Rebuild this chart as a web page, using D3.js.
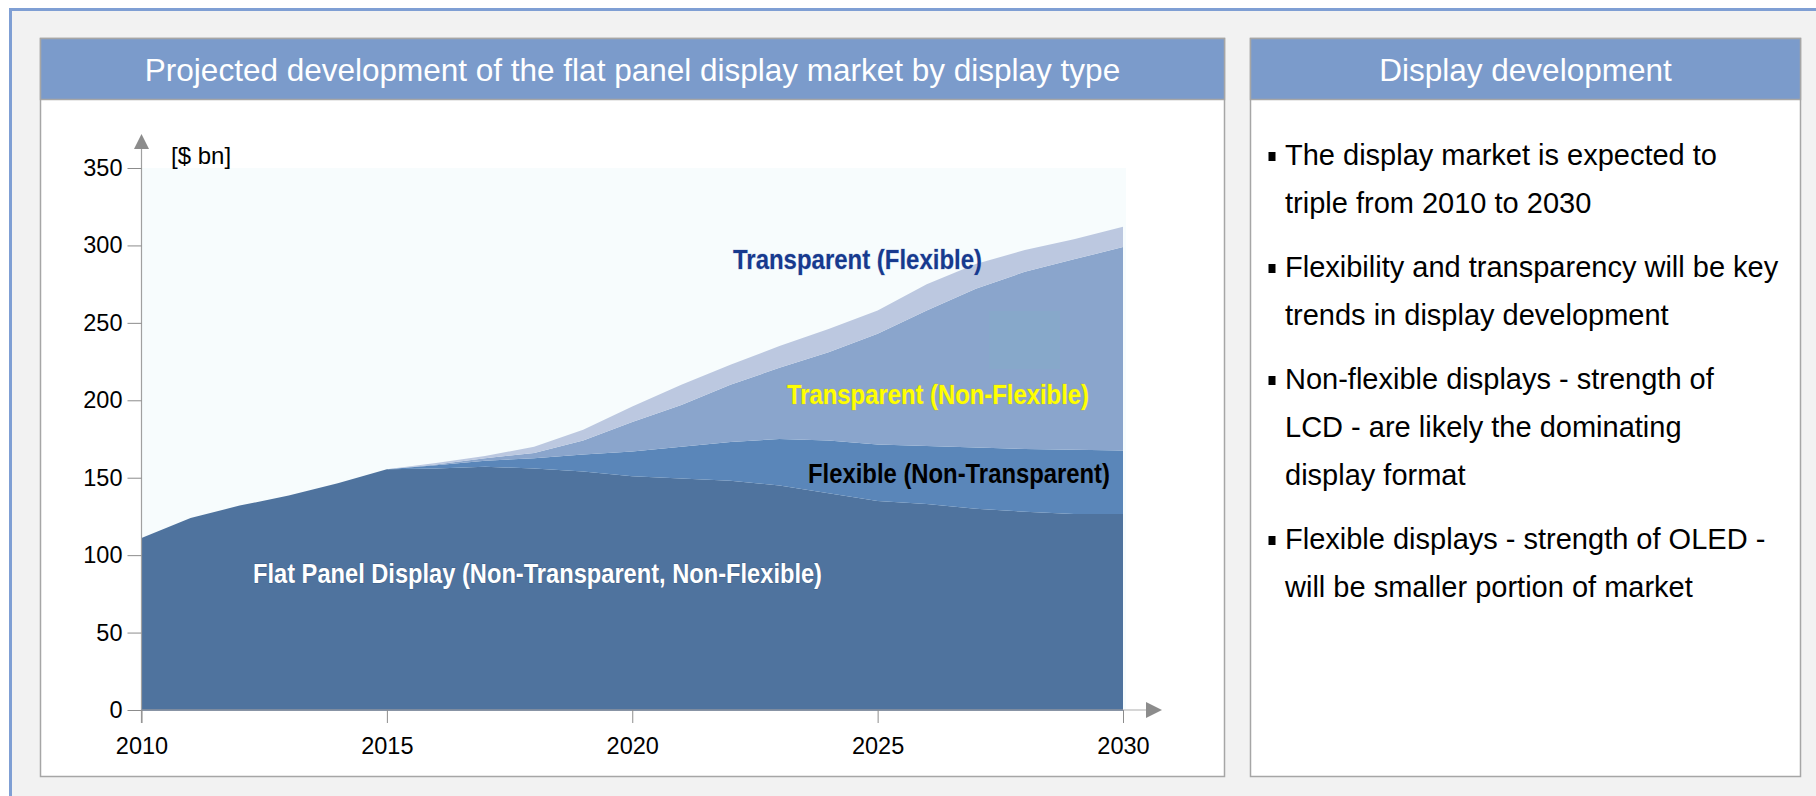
<!DOCTYPE html>
<html>
<head>
<meta charset="utf-8">
<script src="https://cdn.jsdelivr.net/npm/d3@7"></script>
<style>
  html, body { margin: 0; padding: 0; background: #ffffff; }
  svg { display: block; }
  text { font-family: "Liberation Sans", Arial, sans-serif; }
</style>
</head>
<body>
<svg id="chart" width="1816" height="796"></svg>
<script>
// ---- data -------------------------------------------------------------
const years = [2010, 2011, 2012, 2013, 2014, 2015, 2016, 2017, 2018, 2019, 2020,
               2021, 2022, 2023, 2024, 2025, 2026, 2027, 2028, 2029, 2030];

// market value per display type, $ bn (stacked bottom to top)
const flatPanel          = [111, 124, 132, 138.5, 146.5, 155.5, 156, 157, 156, 154, 151,
                            149.5, 148, 145, 140, 135, 133, 130, 128, 126.5, 126.5];
const flexible           = [0, 0, 0, 0, 0, 0, 2, 4, 6.5, 11, 16,
                            20.5, 25, 30, 34, 36.5, 37.5, 39.5, 40.5, 41.5, 41];
const transparentNonFlex = [0, 0, 0, 0, 0, 0, 0.5, 1.5, 3.5, 9, 19,
                            27, 37, 46, 57, 71.5, 87.5, 102.5, 114.5, 123, 131.5];
const transparentFlex    = [0, 0, 0, 0, 0, 0, 1, 1.5, 4, 7, 10,
                            13, 13, 14, 15, 15, 17, 16, 14, 13, 13];

const seriesKeys   = ["flatPanel", "flexible", "transparentNonFlex", "transparentFlex"];
const seriesLabels = ["Flat Panel Display (Non-Transparent, Non-Flexible)",
                      "Flexible (Non-Transparent)",
                      "Transparent (Non-Flexible)",
                      "Transparent (Flexible)"];

const yTicks = [0, 50, 100, 150, 200, 250, 300, 350];
const xTicks = [2010, 2015, 2020, 2025, 2030];
const unitLabel = "[$ bn]";

const leftTitle  = "Projected development of the flat panel display market by display type";
const rightTitle = "Display development";
const bullets = [
  ["The display market is expected to", "triple from 2010 to 2030"],
  ["Flexibility and transparency will be key", "trends in display development"],
  ["Non-flexible displays - strength of", "LCD - are likely the dominating", "display format"],
  ["Flexible displays - strength of OLED -", "will be smaller portion of market"]
];

// ---- layout -----------------------------------------------------------
const svg = d3.select("#chart");

// outer frame
svg.append("rect")
  .attr("x", 10.5).attr("y", 9.5).attr("width", 1830).attr("height", 820)
  .attr("fill", "#f2f2f2").attr("stroke", "#7f9fd4").attr("stroke-width", 3);

function panel(x, w, title, fontSize) {
  const y = 38.5, h = 738, headH = 61;
  svg.append("rect").attr("x", x).attr("y", y).attr("width", w).attr("height", h)
    .attr("fill", "#ffffff").attr("stroke", "#a6a6a6").attr("stroke-width", 1.5);
  svg.append("rect").attr("x", x).attr("y", y).attr("width", w).attr("height", headH)
    .attr("fill", "#7b9bcb").attr("stroke", "#a6a6a6").attr("stroke-width", 1.5);
  svg.append("text").attr("x", x + w / 2).attr("y", 81)
    .attr("text-anchor", "middle").attr("fill", "#ffffff")
    .style("font-size", fontSize + "px").text(title);
}
panel(40.5, 1184, leftTitle, 31.5);
panel(1250.5, 550, rightTitle, 31.5);

// ---- chart ------------------------------------------------------------
const x = d3.scaleLinear().domain([2010, 2030]).range([141.5, 1123]);
const y = d3.scaleLinear().domain([0, 350]).range([710, 168]);

const rows = years.map((yr, i) => ({
  year: yr,
  flatPanel: flatPanel[i],
  flexible: flexible[i],
  transparentNonFlex: transparentNonFlex[i],
  transparentFlex: transparentFlex[i]
}));
const stacked = d3.stack().keys(seriesKeys)(rows);
const colors = ["#4f739e", "#5a86b9", "#8aa5cc", "#bcc8e0"];

// plot background
svg.append("rect")
  .attr("x", x(2010)).attr("y", y(350))
  .attr("width", x(2030) - x(2010) + 3).attr("height", y(0) - y(350))
  .attr("fill", "#f7fcfd");

const area = d3.area()
  .x(d => x(d.data.year))
  .y0(d => y(d[0]))
  .y1(d => y(d[1]))
  .curve(d3.curveLinear);

svg.append("g").selectAll("path").data(stacked).join("path")
  .attr("d", area)
  .attr("fill", (d, i) => colors[i]);

// faint tinted patch inside the transparent (non-flexible) band
svg.append("rect")
  .attr("x", 989).attr("y", 311).attr("width", 71).attr("height", 58)
  .attr("fill", "#86aac8").attr("opacity", 0.6);

// axes
const axisColor = "#8c8c8c";
svg.append("line").attr("x1", x(2010)).attr("x2", x(2010))
  .attr("y1", y(0) + 13).attr("y2", 148)
  .attr("stroke", "#a0a0a0").attr("stroke-width", 1.2);
svg.append("path")
  .attr("d", `M${x(2010) - 7.5},149 L${x(2010)},134 L${x(2010) + 7.5},149 Z`)
  .attr("fill", axisColor);

svg.append("line").attr("x1", x(2010)).attr("x2", 1147)
  .attr("y1", y(0)).attr("y2", y(0))
  .attr("stroke", "#c8c8c8").attr("stroke-width", 1.5);
svg.append("line").attr("x1", x(2010)).attr("x2", x(2030))
  .attr("y1", y(0)).attr("y2", y(0))
  .attr("stroke", "#6e7e94").attr("stroke-width", 1.5);
svg.append("path")
  .attr("d", `M1146,${y(0) - 8} L1162,${y(0)} L1146,${y(0) + 8} Z`)
  .attr("fill", axisColor);

const yAxis = svg.append("g")
  .attr("transform", `translate(${x(2010)},0)`)
  .call(d3.axisLeft(y).tickValues(yTicks).tickSize(14).tickPadding(5));
yAxis.select(".domain").remove();
yAxis.selectAll(".tick line").attr("stroke", axisColor);
yAxis.selectAll(".tick text")
  .attr("fill", "#000").style("font-size", "23.5px")
  .style("font-family", "'Liberation Sans', Arial, sans-serif");

const xAxis = svg.append("g")
  .attr("transform", `translate(0,${y(0)})`)
  .call(d3.axisBottom(x).tickValues(xTicks).tickFormat(d3.format("d"))
        .tickSize(13).tickPadding(14));
xAxis.select(".domain").remove();
xAxis.selectAll(".tick line").attr("stroke", axisColor);
xAxis.selectAll(".tick text")
  .attr("fill", "#000").style("font-size", "23.5px")
  .style("font-family", "'Liberation Sans', Arial, sans-serif");

svg.append("text").attr("x", 171).attr("y", 164)
  .style("font-size", "24px").attr("fill", "#000").text(unitLabel);

// series labels placed inside their bands
const labelSpecs = [
  { i: 0, x: 253, y: 583, w: 569, fill: "#ffffff", halo: "#2c4a70" },
  { i: 1, x: 808, y: 483, w: 302, fill: "#000000", halo: "#5a86b9" },
  { i: 2, x: 787, y: 404, w: 302, fill: "#ffff00", halo: "#b7b04a" },
  { i: 3, x: 733, y: 269, w: 249, fill: "#173a8e", halo: "#9fb2d8" }
];
labelSpecs.forEach(s => {
  svg.append("text")
    .attr("x", s.x).attr("y", s.y)
    .attr("textLength", s.w).attr("lengthAdjust", "spacingAndGlyphs")
    .style("font-family", "'Liberation Sans Narrow', 'Liberation Sans', Arial, sans-serif")
    .style("font-weight", "bold").style("font-size", "28px")
    .attr("fill", s.fill)
    .attr("stroke", s.halo).attr("stroke-width", 0.8).attr("stroke-opacity", 0.6)
    .style("paint-order", "stroke")
    .text(seriesLabels[s.i]);
});

// ---- bullet list ------------------------------------------------------
const lineH = 48, bulletGap = 16;
let baseY = 165;
bullets.forEach(lines => {
  svg.append("rect").attr("x", 1268.5).attr("y", baseY - 13)
    .attr("width", 7).attr("height", 9).attr("fill", "#000");
  lines.forEach((ln, j) => {
    svg.append("text").attr("x", 1285).attr("y", baseY + j * lineH)
      .style("font-size", "29px").attr("fill", "#000").text(ln);
  });
  baseY += lines.length * lineH + bulletGap;
});
</script>
</body>
</html>
